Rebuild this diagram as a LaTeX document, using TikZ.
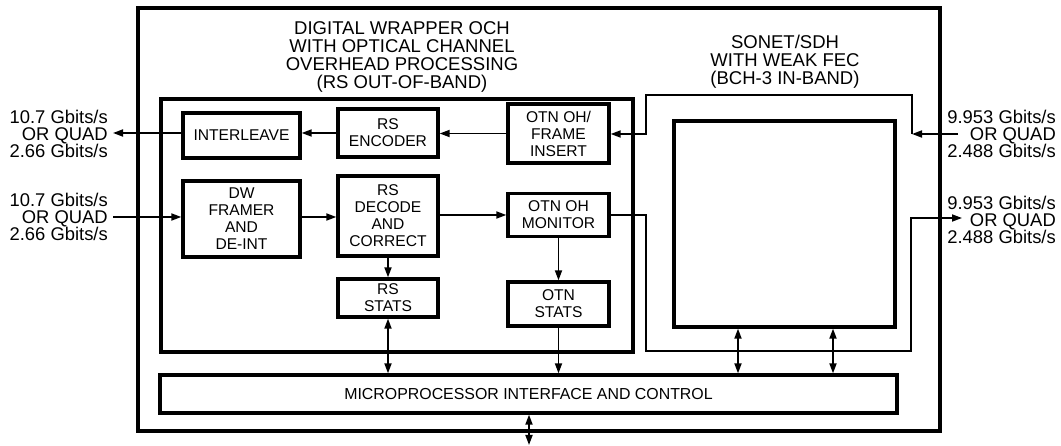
\documentclass[tikz,border=0pt]{standalone}
\usepackage{fontspec}
\setmainfont{Liberation Sans}
\usetikzlibrary{arrows.meta}
\begin{document}
\begin{tikzpicture}[x=1pt,y=-1pt,
  blk/.style={draw,line width=3.3pt,align=center,inner sep=0pt,font=\fontsize{15.6}{17}\selectfont},
  frame/.style={draw,line width=3.3pt,inner sep=0pt},
  conn/.style={line width=1.7pt},
  arr/.style={conn,-{Triangle[length=10pt,width=7pt]}},
  dbl/.style={conn,{Triangle[length=10pt,width=7pt]}-{Triangle[length=10pt,width=7pt]}},
  lbl/.style={align=right,inner sep=0pt,anchor=east,font=\fontsize{18.4}{17}\selectfont},
  ttl/.style={align=center,inner sep=0pt,font=\fontsize{18.5}{18}\selectfont}]
\useasboundingbox (0,0) rectangle (1061,446);
% frames
\node[frame,minimum width=802pt,minimum height=423pt] (chip) at (539,219.5) {};
\node[frame,minimum width=472pt,minimum height=253pt] (dwbox) at (397,225.5) {};
% blocks
\node[blk,minimum width=117pt,minimum height=45pt] (inter) at (241.5,135.5) {INTERLEAVE};
\node[blk,minimum width=117pt,minimum height=76pt] (dw) at (241.5,219) {DW\\FRAMER\\AND\\DE-INT};
\node[blk,minimum width=100pt,minimum height=48pt] (enc) at (388,133) {RS\\ENCODER};
\node[blk,minimum width=100pt,minimum height=80pt] (dec) at (388,216) {RS\\DECODE\\AND\\CORRECT};
\node[blk,minimum width=100pt,minimum height=38pt] (rss) at (388,298) {RS\\STATS};
\node[blk,minimum width=101pt,minimum height=59pt] (ins) at (558.5,133.5) {OTN OH/\\FRAME\\INSERT};
\node[blk,minimum width=101pt,minimum height=43pt] (mon) at (558.5,215) {OTN OH\\MONITOR};
\node[blk,minimum width=101pt,minimum height=44pt] (otns) at (558.5,304) {OTN\\STATS};
\node[frame,minimum width=221pt,minimum height=206pt] (sq) at (784.5,224) {};
\node[blk,minimum width=737pt,minimum height=38pt,font=\fontsize{15.9}{17}\selectfont] (mpu) at (528.5,394) {MICROPROCESSOR INTERFACE AND CONTROL};
% titles
\node[ttl] (dwt) at (402,57) {DIGITAL WRAPPER OCH\\WITH OPTICAL CHANNEL\\OVERHEAD PROCESSING\\(RS OUT-OF-BAND)};
\node[ttl] (st) at (785,62) {SONET/SDH\\WITH WEAK FEC\\(BCH-3 IN-BAND)};
% labels
\node[lbl] (l1) at (108,134) {10.7 Gbits/s\\OR QUAD\\2.66 Gbits/s};
\node[lbl] (l2) at (108,217) {10.7 Gbits/s\\OR QUAD\\2.66 Gbits/s};
\node[lbl] (r1) at (1056,134) {9.953 Gbits/s\\OR QUAD\\2.488 Gbits/s};
\node[lbl] (r2) at (1056,220) {9.953 Gbits/s\\OR QUAD\\2.488 Gbits/s};
% coordinates
\coordinate (outL) at (113,133);
\coordinate (inL) at (113,217);
\coordinate (inR) at (958,134);
\coordinate (pr) at (912,134);
\coordinate (pl) at (646,134);
\coordinate (outR) at (962,218);
\coordinate (cx1) at (738,0);
\coordinate (cx2) at (833,0);
\coordinate (cx3) at (529,445);
% connectors
\draw[arr] (ins.west) -- (ins.west -| enc.east);
\draw[arr] (enc.west) -- (enc.west -| inter.east);
\draw[arr] (inter.west |- outL) -- (outL);
\draw[arr] (inL) -- (inL -| dw.west);
\draw[arr] (dw.east |- inL) -- (dec.west |- inL);
\draw[arr] (dec.east |- mon.west) -- (mon.west);
\draw[arr] (dec.south) -- (rss.north);
\draw[arr] (mon.south) -- (otns.north);
\draw[dbl] (rss.south) -- (rss.south |- mpu.north);
\draw[arr] (otns.south) -- (otns.south |- mpu.north);
\draw[dbl] (sq.south -| cx1) -- (mpu.north -| cx1);
\draw[dbl] (sq.south -| cx2) -- (mpu.north -| cx2);
\draw[dbl] (mpu.south -| cx3) -- (cx3);
\draw[arr] (inR) -- (pr);
\draw[arr] (pr) |- (646,95) -- (pl) -- (pl -| ins.east);
\draw[arr] (mon.east) -- (mon.east -| pl) -- (646,351) -- (911,351) |- (outR);
\end{tikzpicture}
\end{document}
